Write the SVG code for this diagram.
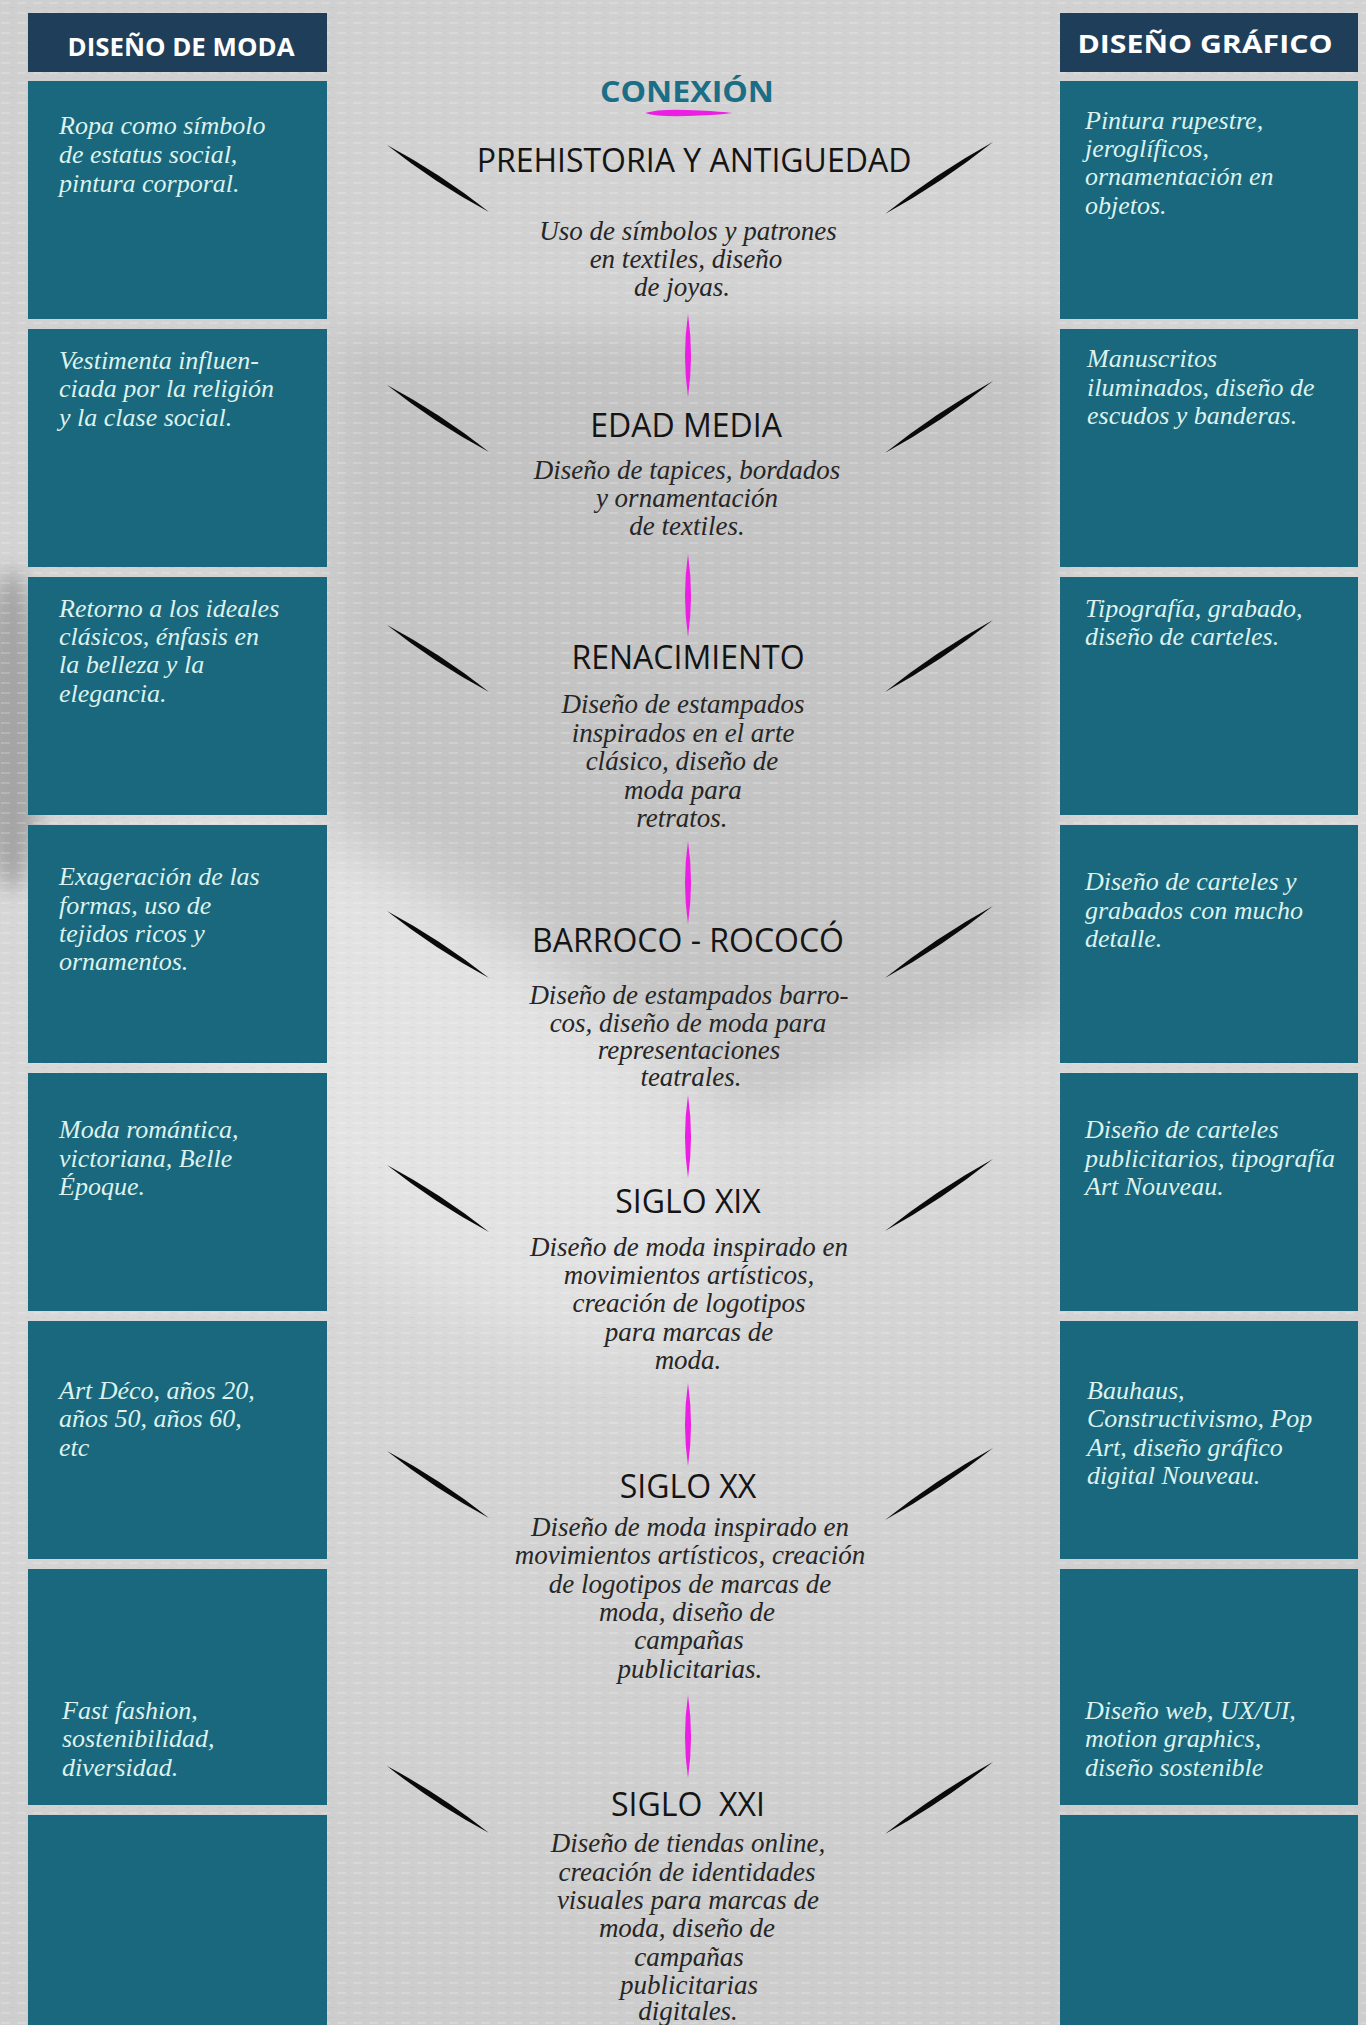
<svg xmlns="http://www.w3.org/2000/svg" width="1366" height="2025" viewBox="0 0 1366 2025">
<defs>
  <linearGradient id="bg" x1="0" y1="0" x2="0.2" y2="1">
    <stop offset="0" stop-color="#cfcfcf"/>
    <stop offset="0.3" stop-color="#d4d4d4"/>
    <stop offset="0.6" stop-color="#d9d9d9"/>
    <stop offset="1" stop-color="#cdcdcd"/>
  </linearGradient>
  <filter id="blur40" x="-50%" y="-50%" width="200%" height="200%"><feGaussianBlur stdDeviation="40"/></filter>
  <filter id="blur25" x="-50%" y="-50%" width="200%" height="200%"><feGaussianBlur stdDeviation="25"/></filter>
  <filter id="blur10" x="-50%" y="-50%" width="200%" height="200%"><feGaussianBlur stdDeviation="10"/></filter>
  <pattern id="weave" width="16" height="10" patternUnits="userSpaceOnUse">
    <rect x="1" y="2" width="9" height="2" fill="#ffffff" opacity="0.18"/>
    <rect x="9" y="7" width="6" height="1.2" fill="#7a7a7a" opacity="0.08"/>
  </pattern>
  <path id="slashL" d="M0,0 Q47.98,38.1 102,67 Q54.02,28.9 0,0 Z"/>
  <path id="slashR" d="M0,0 Q-50.95,40.58 -108,72 Q-57.05,31.42 0,0 Z"/>
  <path id="pinkV" d="M0,0 Q6,41.5 0,83 Q-6,41.5 0,0 Z"/>
  <style>
    .hdr { fill: #1f3e59; }
    .box { fill: #1a687d; }
    .hdt { font-family: "Open Sans", "Liberation Sans", sans-serif; font-weight: 700; font-size: 25px; fill: #ffffff; text-anchor: middle; }
    .bt { font-family: "Liberation Serif", serif; font-style: italic; font-size: 26px; fill: #dcf2ee; }
    .dt { font-family: "Liberation Serif", serif; font-style: italic; font-size: 27px; fill: #262626; text-anchor: middle; }
    .ht { font-family: "Open Sans", "Liberation Sans", sans-serif; font-size: 32px; fill: #141414; text-anchor: middle; }
    .con { font-family: "Open Sans", "Liberation Sans", sans-serif; font-weight: 700; font-size: 29px; fill: #1b6e85; text-anchor: middle; }
    .slash { fill: #0a0a0a; }
    .pink { fill: #ec1ee4; }
  </style>
</defs>

<!-- background fabric -->
<rect x="0" y="0" width="1366" height="2025" fill="url(#bg)"/>
<path d="M330,330 L1060,330 L1060,1010 L760,1110 L330,850 Z" fill="#b9b9b9" opacity="0.6" filter="url(#blur25)"/>
<ellipse cx="420" cy="1080" rx="170" ry="380" fill="#ececec" opacity="0.55" filter="url(#blur40)" transform="rotate(-50 420 1080)"/>
<ellipse cx="12" cy="730" rx="30" ry="160" fill="#9a9a9a" opacity="0.8" filter="url(#blur10)"/>
<rect x="0" y="0" width="1366" height="2025" fill="url(#weave)"/>

<!-- Diseño de moda column -->
<g id="moda-header">
  <rect class="hdr" x="28" y="13" width="299" height="59"/>
  <text class="hdt" x="181" y="56" textLength="227" lengthAdjust="spacingAndGlyphs">DISEÑO DE MODA</text>
</g>
<g id="moda-prehistoria">
  <rect class="box" x="28" y="81" width="299" height="238"/>
  <text class="bt" x="59" y="134">Ropa como símbolo</text>
  <text class="bt" x="59" y="163">de estatus social,</text>
  <text class="bt" x="59" y="192">pintura corporal.</text>
</g>
<g id="moda-edad-media">
  <rect class="box" x="28" y="329" width="299" height="238"/>
  <text class="bt" x="59" y="369">Vestimenta influen-</text>
  <text class="bt" x="59" y="397">ciada por la religión</text>
  <text class="bt" x="59" y="426">y la clase social.</text>
</g>
<g id="moda-renacimiento">
  <rect class="box" x="28" y="577" width="299" height="238"/>
  <text class="bt" x="59" y="617">Retorno a los ideales</text>
  <text class="bt" x="59" y="645">clásicos, énfasis en</text>
  <text class="bt" x="59" y="673">la belleza y la</text>
  <text class="bt" x="59" y="702">elegancia.</text>
</g>
<g id="moda-barroco">
  <rect class="box" x="28" y="825" width="299" height="238"/>
  <text class="bt" x="59" y="885">Exageración de las</text>
  <text class="bt" x="59" y="914">formas, uso de</text>
  <text class="bt" x="59" y="942">tejidos ricos y</text>
  <text class="bt" x="59" y="970">ornamentos.</text>
</g>
<g id="moda-siglo-xix">
  <rect class="box" x="28" y="1073" width="299" height="238"/>
  <text class="bt" x="59" y="1138">Moda romántica,</text>
  <text class="bt" x="59" y="1167">victoriana, Belle</text>
  <text class="bt" x="59" y="1195">Époque.</text>
</g>
<g id="moda-siglo-xx">
  <rect class="box" x="28" y="1321" width="299" height="238"/>
  <text class="bt" x="59" y="1399">Art Déco, años 20,</text>
  <text class="bt" x="59" y="1427">años 50, años 60,</text>
  <text class="bt" x="59" y="1456">etc</text>
</g>
<g id="moda-siglo-xxi">
  <rect class="box" x="28" y="1569" width="299" height="236"/>
  <text class="bt" x="62" y="1719">Fast fashion,</text>
  <text class="bt" x="62" y="1747">sostenibilidad,</text>
  <text class="bt" x="62" y="1776">diversidad.</text>
</g>
<g id="moda-extra">
  <rect class="box" x="28" y="1815" width="299" height="215"/>
</g>

<!-- Diseño gráfico column -->
<g id="grafico-header">
  <rect class="hdr" x="1060" y="13" width="298" height="59"/>
  <text class="hdt" x="1205" y="53" textLength="255" lengthAdjust="spacingAndGlyphs">DISEÑO GRÁFICO</text>
</g>
<g id="grafico-prehistoria">
  <rect class="box" x="1060" y="81" width="298" height="238"/>
  <text class="bt" x="1085" y="129">Pintura rupestre,</text>
  <text class="bt" x="1085" y="157">jeroglíficos,</text>
  <text class="bt" x="1085" y="185">ornamentación en</text>
  <text class="bt" x="1085" y="214">objetos.</text>
</g>
<g id="grafico-edad-media">
  <rect class="box" x="1060" y="329" width="298" height="238"/>
  <text class="bt" x="1087" y="367">Manuscritos</text>
  <text class="bt" x="1087" y="396">iluminados, diseño de</text>
  <text class="bt" x="1087" y="424">escudos y banderas.</text>
</g>
<g id="grafico-renacimiento">
  <rect class="box" x="1060" y="577" width="298" height="238"/>
  <text class="bt" x="1085" y="617">Tipografía, grabado,</text>
  <text class="bt" x="1085" y="645">diseño de carteles.</text>
</g>
<g id="grafico-barroco">
  <rect class="box" x="1060" y="825" width="298" height="238"/>
  <text class="bt" x="1085" y="890">Diseño de carteles y</text>
  <text class="bt" x="1085" y="919">grabados con mucho</text>
  <text class="bt" x="1085" y="947">detalle.</text>
</g>
<g id="grafico-siglo-xix">
  <rect class="box" x="1060" y="1073" width="298" height="238"/>
  <text class="bt" x="1085" y="1138">Diseño de carteles</text>
  <text class="bt" x="1085" y="1167">publicitarios, tipografía</text>
  <text class="bt" x="1085" y="1195">Art Nouveau.</text>
</g>
<g id="grafico-siglo-xx">
  <rect class="box" x="1060" y="1321" width="298" height="238"/>
  <text class="bt" x="1087" y="1399">Bauhaus,</text>
  <text class="bt" x="1087" y="1427">Constructivismo, Pop</text>
  <text class="bt" x="1087" y="1456">Art, diseño gráfico</text>
  <text class="bt" x="1087" y="1484">digital Nouveau.</text>
</g>
<g id="grafico-siglo-xxi">
  <rect class="box" x="1060" y="1569" width="298" height="236"/>
  <text class="bt" x="1085" y="1719">Diseño web, UX/UI,</text>
  <text class="bt" x="1085" y="1747">motion graphics,</text>
  <text class="bt" x="1085" y="1776">diseño sostenible</text>
</g>
<g id="grafico-extra">
  <rect class="box" x="1060" y="1815" width="298" height="215"/>
</g>

<!-- Conexión column -->
<g id="conexion-title">
  <text class="con" x="687" y="102" textLength="174" lengthAdjust="spacingAndGlyphs">CONEXIÓN</text>
  <path class="pink" d="M645,113 Q660,108 700,110.5 Q722,111.5 732,113 Q722,114.5 700,115.5 Q660,118 645,113 Z"/>
</g>
<g id="era-prehistoria">
  <text class="ht" x="694" y="172">PREHISTORIA Y ANTIGUEDAD</text>
  <text class="dt" x="688" y="240">Uso de símbolos y patrones</text>
  <text class="dt" x="686" y="268">en textiles, diseño</text>
  <text class="dt" x="682" y="296">de joyas.</text>
</g>
<g id="era-edad-media">
  <text class="ht" x="686" y="437">EDAD MEDIA</text>
  <text class="dt" x="687" y="479">Diseño de tapices, bordados</text>
  <text class="dt" x="687" y="507">y ornamentación</text>
  <text class="dt" x="687" y="535">de textiles.</text>
</g>
<g id="era-renacimiento">
  <text class="ht" x="688" y="669">RENACIMIENTO</text>
  <text class="dt" x="683" y="713">Diseño de estampados</text>
  <text class="dt" x="683" y="742">inspirados en el arte</text>
  <text class="dt" x="682" y="770">clásico, diseño de</text>
  <text class="dt" x="683" y="799">moda para</text>
  <text class="dt" x="682" y="827">retratos.</text>
</g>
<g id="era-barroco">
  <text class="ht" x="688" y="952">BARROCO - ROCOCÓ</text>
  <text class="dt" x="689" y="1004">Diseño de estampados barro-</text>
  <text class="dt" x="688" y="1032">cos, diseño de moda para</text>
  <text class="dt" x="689" y="1059">representaciones</text>
  <text class="dt" x="691" y="1086">teatrales.</text>
</g>
<g id="era-siglo-xix">
  <text class="ht" x="688" y="1213">SIGLO XIX</text>
  <text class="dt" x="689" y="1256">Diseño de moda inspirado en</text>
  <text class="dt" x="689" y="1284">movimientos artísticos,</text>
  <text class="dt" x="689" y="1312">creación de logotipos</text>
  <text class="dt" x="689" y="1341">para marcas de</text>
  <text class="dt" x="688" y="1369">moda.</text>
</g>
<g id="era-siglo-xx">
  <text class="ht" x="688" y="1498">SIGLO XX</text>
  <text class="dt" x="690" y="1536">Diseño de moda inspirado en</text>
  <text class="dt" x="690" y="1564">movimientos artísticos, creación</text>
  <text class="dt" x="690" y="1593">de logotipos de marcas de</text>
  <text class="dt" x="687" y="1621">moda, diseño de</text>
  <text class="dt" x="689" y="1649">campañas</text>
  <text class="dt" x="690" y="1678">publicitarias.</text>
</g>
<g id="era-siglo-xxi">
  <text class="ht" x="688" y="1816" xml:space="preserve">SIGLO  XXI</text>
  <text class="dt" x="688" y="1852">Diseño de tiendas online,</text>
  <text class="dt" x="687" y="1881">creación de identidades</text>
  <text class="dt" x="688" y="1909">visuales para marcas de</text>
  <text class="dt" x="687" y="1937">moda, diseño de</text>
  <text class="dt" x="689" y="1966">campañas</text>
  <text class="dt" x="689" y="1994">publicitarias</text>
  <text class="dt" x="688" y="2020">digitales.</text>
</g>

<!-- connectors -->
<g id="connectors">
  <use href="#pinkV" class="pink" x="688" y="314"/>
  <use href="#pinkV" class="pink" x="688" y="554"/>
  <use href="#pinkV" class="pink" x="688" y="841"/>
  <use href="#pinkV" class="pink" x="688" y="1095"/>
  <use href="#pinkV" class="pink" x="688" y="1383"/>
  <use href="#pinkV" class="pink" x="688" y="1695"/>

  <use href="#slashL" class="slash" x="387" y="145"/>
  <use href="#slashL" class="slash" x="387" y="385"/>
  <use href="#slashL" class="slash" x="387" y="625"/>
  <use href="#slashL" class="slash" x="387" y="911"/>
  <use href="#slashL" class="slash" x="387" y="1165"/>
  <use href="#slashL" class="slash" x="387" y="1451"/>
  <use href="#slashL" class="slash" x="387" y="1766"/>

  <use href="#slashR" class="slash" x="993" y="142"/>
  <use href="#slashR" class="slash" x="993" y="381"/>
  <use href="#slashR" class="slash" x="993" y="620"/>
  <use href="#slashR" class="slash" x="993" y="906"/>
  <use href="#slashR" class="slash" x="993" y="1159"/>
  <use href="#slashR" class="slash" x="993" y="1448"/>
  <use href="#slashR" class="slash" x="993" y="1762"/>
</g>
</svg>
